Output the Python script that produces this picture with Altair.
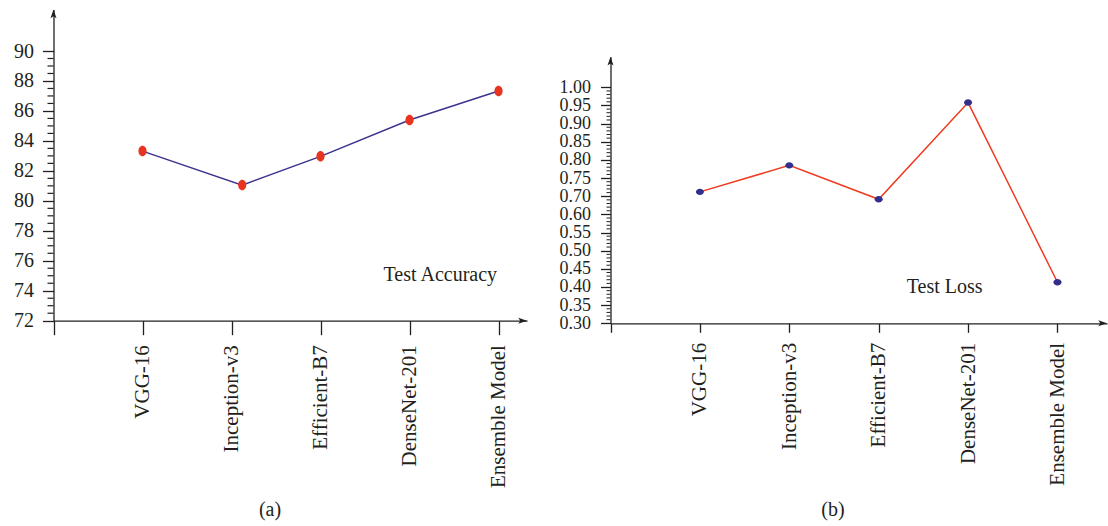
import altair as alt
import pandas as pd
import numpy as np

# ---------------- data ----------------
models = ["VGG-16", "Inception-v3", "Efficient-B7", "DenseNet-201", "Ensemble Model"]
acc_pos = [1, 2.12, 3, 4, 5]
accuracy = [83.32, 81.05, 82.97, 85.39, 87.33]
loss_pos = [1, 2, 3, 4, 5]
loss = [0.712, 0.785, 0.683, 0.958, 0.413]

acc_ticks = [72, 74, 76, 78, 80, 82, 84, 86, 88, 90]
loss_ticks = [0.30, 0.35, 0.40, 0.45, 0.50, 0.55, 0.60, 0.70, 0.75, 0.80, 0.85, 0.90, 0.95, 1.00]

# minor ticks
acc_minor = [round(v, 2) for v in np.arange(72, 90.01, 0.5) if abs(v / 2 - round(v / 2)) > 1e-6]
loss_minor = []
for a, b in zip(loss_ticks[:-1], loss_ticks[1:]):
    for k in range(1, 5):
        loss_minor.append(round(a + (b - a) * k / 5, 4))

FONT = "Liberation Serif"
TXT = "#231f20"
ACC_LINE = "#3b3390"
ACC_DOT = "#e8331f"
LOSS_LINE = "#ef3b1f"
LOSS_DOT = "#312e8c"

ELL_V = "M0,-1A0.78,1,0,1,1,0,1A0.78,1,0,1,1,0,-1Z"
ELL_H = "M-1,0A1,0.8,0,1,1,1,0A1,0.8,0,1,1,-1,0Z"
ARROW_UP = "M0,-1L0.6,0.75L0,0.35L-0.6,0.75Z"
ARROW_RIGHT = "M1,0L-0.75,0.6L-0.35,0L-0.75,-0.6Z"

names_js = "[" + ",".join(["''"] + ["'" + m + "'" for m in models]) + "]"
x_label_expr = names_js + "[datum.value]"

W, H = 1108, 526

common_axis = dict(
    grid=False, title=None, domainColor=TXT, tickColor=TXT, domainWidth=1.3,
    tickWidth=1.3, labelFont=FONT, labelColor=TXT, labelOverlap=False,
    labelFlush=False,
)

# ---------------- left panel ----------------
acc_df = pd.DataFrame({"pos": acc_pos, "value": accuracy, "model": models})
acc_minor_df = pd.DataFrame({"value": acc_minor})

xl = alt.X(
    "pos:Q",
    scale=alt.Scale(domain=[0, 5.32], range=[53.5, 527], nice=False, zero=False),
    axis=alt.Axis(values=[0, 1, 2, 3, 4, 5], labelExpr=x_label_expr, labelAngle=-90,
                  tickSize=14, labelPadding=10, labelFontSize=21, orient="bottom",
                  offset=-(H - 320.7), **common_axis),
)
yl = alt.Y(
    "value:Q",
    scale=alt.Scale(domain=[72, 92.77], range=[320.7, 9.5], nice=False, zero=False),
    axis=alt.Axis(values=acc_ticks, format="d", tickSize=11, labelPadding=9,
                  labelFontSize=20, orient="left", offset=-53.5, **common_axis),
)

acc_base = alt.Chart(acc_df).encode(x=xl, y=yl)
acc_line = acc_base.mark_line(color=ACC_LINE, strokeWidth=1.5)
acc_pts = acc_base.mark_point(shape=ELL_V, filled=True, color=ACC_DOT, size=110, opacity=1)
acc_minor_rules = alt.Chart(acc_minor_df).mark_rule(color=TXT, strokeWidth=1.2).encode(
    y=yl, x=alt.value(47.5), x2=alt.value(53.5)
)
left = alt.layer(acc_minor_rules, acc_line, acc_pts)

# ---------------- right panel ----------------
loss_df = pd.DataFrame({"pos": loss_pos, "value": loss, "model": models})
loss_minor_df = pd.DataFrame({"value": loss_minor})

xr = alt.X(
    "pos:Q",
    scale=alt.Scale(domain=[0, 5.554], range=[610.5, 1107], nice=False, zero=False),
    axis=alt.Axis(values=[0, 1, 2, 3, 4, 5], labelExpr=x_label_expr, labelAngle=-90,
                  tickSize=9, labelPadding=10, labelFontSize=21, orient="bottom",
                  offset=-(H - 323.3), **common_axis),
)
yr = alt.Y(
    "value:Q",
    scale=alt.Scale(domain=[0.30, 0.60, 0.70, 1.00, 1.0843],
                    range=[323.3, 214.38, 196.23, 87.3, 56.7], nice=False, zero=False),
    axis=alt.Axis(values=loss_ticks, format=".2f", tickSize=10, labelPadding=10,
                  labelFontSize=18, orient="left", offset=-610.5, **common_axis),
)

loss_base = alt.Chart(loss_df).encode(x=xr, y=yr)
loss_line = loss_base.mark_line(color=LOSS_LINE, strokeWidth=1.5)
loss_pts = loss_base.mark_point(shape=ELL_H, filled=True, color=LOSS_DOT, size=64, opacity=1)
loss_minor_rules = alt.Chart(loss_minor_df).mark_rule(color=TXT, strokeWidth=1.0).encode(
    y=yr, x=alt.value(606.5), x2=alt.value(610.5)
)
right = alt.layer(loss_minor_rules, loss_line, loss_pts)

# ---------------- decorations ----------------
dummy = pd.DataFrame({"d": [0]})


def arrow(shape, x, y):
    return alt.Chart(dummy).mark_point(shape=shape, filled=True, color=TXT, size=100,
                                       opacity=1).encode(x=alt.value(x), y=alt.value(y))


def label(text, x, y):
    return alt.Chart(dummy).mark_text(text=text, font=FONT, fontSize=20, color=TXT,
                                      align="center", baseline="middle").encode(
        x=alt.value(x), y=alt.value(y))


decor = [
    arrow(ARROW_UP, 53.5, 14.5),
    arrow(ARROW_RIGHT, 522, 320.7),
    arrow(ARROW_UP, 610.5, 61.7),
    arrow(ARROW_RIGHT, 1102, 323.3),
    label("Test Accuracy", 440.3, 275),
    label("Test Loss", 944.7, 287),
    label("(a)", 270, 510),
    label("(b)", 833, 510),
]

chart = alt.layer(left, right, *decor).resolve_scale(
    x="independent", y="independent"
).properties(
    width=W, height=H, autosize=alt.AutoSizeParams(type="none"), padding=0
).configure_view(stroke=None)

chart.save("out.html", embed_options={"renderer": "svg", "actions": False})
